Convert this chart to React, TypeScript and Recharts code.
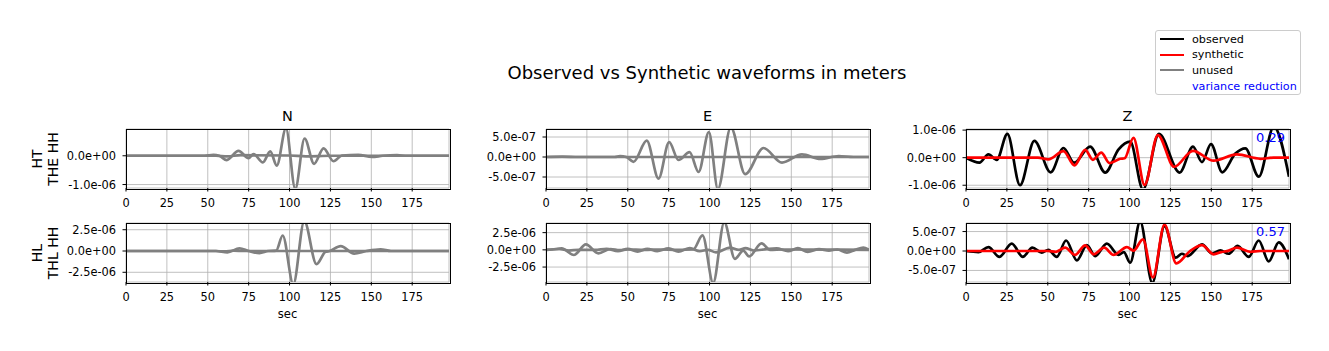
import { LineChart, Line, XAxis, YAxis, CartesianGrid } from "recharts";

type Pt = [number, number];

// time (s), amplitude (micrometres unless noted)
const nTopObs: Pt[] = [[0, 0], [48, 0], [53.5, 0.03], [57, 0], [61.6, -0.15], [68.8, 0.17], [74.9, -0.08], [78, 0.06], [83.7, -0.23], [88.2, 0.15], [92.2, -0.34], [97.8, 0.95], [103.5, -1.15], [109.2, 0.6], [115, -0.28], [120.8, 0.26], [126.9, -0.19], [132, 0.01], [142, 0.03], [150.4, -0.04], [157, 0], [165.7, 0.02], [172, 0], [197.5, 0]];
const nTopSyn: Pt[] = [[0, 0], [55, 0], [62, -0.02], [70, 0.02], [100, 0.01], [110, -0.02], [125, 0], [197.5, 0]];

const nBotObs: Pt[] = [[0, 0], [55, 0], [62, -0.15], [69.4, 0.3], [75, 0], [81.6, -0.25], [87, 0], [91.8, 0.05], [95.8, 1.82], [102.3, -3.9], [109, 3.5], [116.5, -1.55], [122, -0.1], [124.5, 0], [131.3, 0.58], [139.5, -0.31], [147, 0], [155.7, 0.2], [162, 0], [197.5, 0]];
const nBotSyn: Pt[] = [[0, 0], [55, 0], [60, -0.05], [66, 0.05], [72, 0], [197.5, 0]];

// E top in units of 1e-7
const eTopObs: Pt[] = [[0, 0], [42, 0], [45.3, 0.2], [49, 0], [53.5, -1.2], [61.6, 4.1], [68.8, -5.4], [75.3, 3.7], [81, -0.75], [87.8, 1.2], [93.3, -3.75], [99.6, 6.2], [105.1, -8.0], [113, 7.4], [121.8, -4.3], [133, 2.25], [144.3, -1.4], [156.5, 0.67], [167.8, -0.5], [179, 0.25], [188, 0], [197.5, 0]];
const eTopSyn: Pt[] = [[0, 0], [10, 0.1], [20, 0], [197.5, 0]];

const eBotObs: Pt[] = [[0, 0], [4, 0.05], [9.6, 0.2], [17.1, -0.75], [24.4, 0.8], [32, -0.5], [39.5, 0.12], [45, -0.05], [50, 0.05], [60, 0], [70, 0.05], [80, 0], [90, 0.05], [95.7, 2.1], [102.2, -4.8], [109, 4.0], [115.5, -1.3], [120.6, -0.1], [124.2, -0.95], [131.8, 0.95], [137, 0], [145, 0.05], [197.5, 0]];
const eBotSyn: Pt[] = [[0, 0], [8, 0.12], [14, -0.1], [20, 0], [30, 0], [37, 0.15], [44, -0.2], [50, 0.15], [56, -0.25], [62, 0.15], [68, -0.2], [75, 0.2], [81, -0.25], [88, 0.25], [94, -0.2], [99, 0], [104, -0.38], [112.4, 0.33], [118, 0], [122, 0.25], [127, -0.1], [135, 0.1], [141, 0.2], [148, -0.2], [154, 0.25], [160, -0.3], [167, 0.1], [173, -0.1], [178, 0.05], [184, -0.4], [189, 0], [194, 0.33], [197.5, 0]];

const zTopObs: Pt[] = [[0, 0], [8.2, -0.18], [13.7, 0.12], [18.8, -0.08], [25.3, 0.86], [33, -1.0], [41.8, 0.61], [51.8, -0.53], [59.6, 0.35], [66.1, -0.18], [75.9, 0.4], [85.1, -0.54], [93.3, 0.3], [100.4, 0.58], [108.2, -1.15], [118, 0.86], [130.6, -0.54], [138.8, 0.4], [144.3, -0.16], [149.8, 0.49], [156.7, -0.53], [164.7, 0.15], [170.8, 0.34], [179, -0.69], [188.2, 1.12], [197.5, -0.69]];
const zTopSyn: Pt[] = [[0, 0], [44, 0], [50.4, -0.06], [59.6, 0.24], [66.3, -0.28], [72.9, 0.28], [77.6, -0.08], [82.7, 0.18], [87.8, -0.2], [94.3, -0.04], [97, -0.02], [102.4, 0.72], [109.2, -0.99], [117.3, 0.82], [127.3, -0.33], [138.8, 0.25], [151.4, -0.11], [165.7, 0.12], [180, -0.04], [188, 0], [197.5, 0]];

// Z bottom in units of 1e-7
const zBotObs: Pt[] = [[0, 0], [7.6, -0.3], [13.7, 1.0], [20.4, -1.5], [28, 1.9], [34.7, -1.5], [40.6, 0.85], [46.3, -0.4], [50.4, 0.3], [55.5, -1.5], [61.2, 2.7], [67.8, -2.4], [73.9, 1.5], [79, -1.3], [86.1, 1.9], [93.3, -1.0], [96.5, -0.3], [100.4, -3.0], [106.5, 7.6], [113.9, -8.2], [121.4, 6.4], [128.2, -1.7], [132, -0.7], [135.5, -1.3], [144.3, 1.7], [150.4, -0.6], [155.5, 0.17], [160.6, -0.7], [166.1, 1.3], [172.9, -1.5], [179, 2.7], [185.1, -2.7], [191.2, 2.2], [197.5, -2.1]];
const zBotSyn: Pt[] = [[0, 0], [50, 0], [55, -0.2], [60.6, 0.85], [66.7, -1.0], [72.9, 1.45], [78, -0.85], [84.5, 0.85], [90.2, -1.0], [98.4, 1.0], [102.4, 0.1], [108.2, 3.0], [114.3, -6.8], [121.4, 6.8], [128.6, -3.2], [137, 0], [144.3, 1.5], [151.4, -0.85], [156, -0.3], [160.6, 0.1], [165.7, 0.85], [173.9, -0.2], [180, 0], [197.5, 0]];

const xTicks = [0, 25, 50, 75, 100, 125, 150, 175];
const varReduction = ["0.29", "0.57"];
const components = ["N", "E", "Z"];
const stations = [["HT", "THE HH"], ["HL", "THL HH"]];

const FONT = "'DejaVu Sans', sans-serif";
const PW = 323;
const PH = 59;
const YW = 80;
const MT = 10;
const colLeft = [126, 546, 966];
const rowTop = [129, 223];

const rows = (pts: Pt[], unit: number) => pts.map(([t, v]) => ({ t, v: v * unit }));

const sci = (v: number) => {
  if (v === 0) return "0.0e+00";
  const [m, e] = v.toExponential(1).split("e");
  const n = Number(e);
  return `${m}e${n < 0 ? "-" : "+"}${String(Math.abs(n)).padStart(2, "0")}`;
};

type PanelProps = {
  col: number;
  row: number;
  obs: { t: number; v: number }[];
  syn: { t: number; v: number }[];
  used: boolean;
  domain: [number, number];
  yTicks: number[];
};

function Panel({ col, row, obs, syn, used, domain, yTicks }: PanelProps) {
  const left = colLeft[col];
  const top = rowTop[row];
  const tickStyle = { fontSize: 11.4, fill: "#000", fontFamily: FONT };
  return (
    <>
      <div style={{ position: "absolute", left: left - YW, top: top - MT }}>
        <LineChart width={YW + PW + 2} height={PH + MT + 30} margin={{ top: MT, right: 2, bottom: 0, left: 0 }}>
          <CartesianGrid stroke="#b0b0b0" strokeWidth={0.8} />
          <XAxis
            dataKey="t"
            type="number"
            domain={[0, 197.5]}
            allowDataOverflow
            ticks={xTicks}
            interval={0}
            height={30}
            tick={tickStyle}
            tickSize={3.5}
            tickMargin={7}
            tickLine={{ stroke: "#000" }}
            axisLine={false}
          />
          <YAxis
            type="number"
            domain={domain}
            allowDataOverflow
            ticks={yTicks}
            interval={0}
            width={YW}
            tick={tickStyle}
            tickFormatter={sci}
            tickSize={3.5}
            tickMargin={6.5}
            tickLine={{ stroke: "#000" }}
            axisLine={false}
          />
          <Line
            data={obs}
            dataKey="v"
            type="monotone"
            stroke={used ? "#000000" : "#808080"}
            strokeWidth={2.7}
            dot={false}
            isAnimationActive={false}
          />
          <Line
            data={syn}
            dataKey="v"
            type="monotone"
            stroke={used ? "#ff0000" : "#808080"}
            strokeWidth={2.7}
            dot={false}
            isAnimationActive={false}
          />
        </LineChart>
      </div>
      <div
        style={{
          position: "absolute",
          left: left - 0.5,
          top: top - 0.5,
          width: PW,
          height: PH,
          border: "1px solid #000",
          pointerEvents: "none",
        }}
      />
      {used && (
        <div
          style={{
            position: "absolute",
            right: 1329 - 1285,
            top: top + 0.5,
            fontSize: 13,
            color: "#0000ff",
            fontFamily: FONT,
          }}
        >
          {varReduction[row]}
        </div>
      )}
      {row === 0 && (
        <div
          style={{
            position: "absolute",
            left: left + PW / 2,
            top: 116,
            transform: "translate(-50%, -50%)",
            fontSize: 14.5,
            fontFamily: FONT,
          }}
        >
          {components[col]}
        </div>
      )}
      {row === 1 && (
        <div
          style={{
            position: "absolute",
            left: left + PW / 2,
            top: 314,
            transform: "translate(-50%, -50%)",
            fontSize: 11.6,
            fontFamily: FONT,
          }}
        >
          sec
        </div>
      )}
    </>
  );
}

export default function App() {
  const legend = [
    { label: "observed", color: "#000000" },
    { label: "synthetic", color: "#ff0000" },
    { label: "unused", color: "#808080" },
  ];
  return (
    <div style={{ position: "absolute", left: 0, top: 0, width: 1329, height: 351, background: "#fff", fontFamily: FONT }}>
      <div
        style={{
          position: "absolute",
          left: 707,
          top: 72,
          transform: "translate(-50%, -50%)",
          fontSize: 18,
          whiteSpace: "nowrap",
        }}
      >
        Observed vs Synthetic waveforms in meters
      </div>

      {stations.map((s, i) => (
        <div
          key={s[1]}
          style={{
            position: "absolute",
            left: 45,
            top: rowTop[i] + PH / 2,
            transform: "translate(-50%, -50%) rotate(-90deg)",
            fontSize: 14,
            lineHeight: "16px",
            textAlign: "center",
            whiteSpace: "nowrap",
          }}
        >
          {s[0]}
          <br />
          {s[1]}
        </div>
      ))}

      <Panel col={0} row={0} obs={rows(nTopObs, 1e-6)} syn={rows(nTopSyn, 1e-6)} used={false} domain={[-1.12e-6, 0.93e-6]} yTicks={[-1e-6, 0]} />
      <Panel col={0} row={1} obs={rows(nBotObs, 1e-6)} syn={rows(nBotSyn, 1e-6)} used={false} domain={[-3.64e-6, 3.29e-6]} yTicks={[-2.5e-6, 0, 2.5e-6]} />
      <Panel col={1} row={0} obs={rows(eTopObs, 1e-7)} syn={rows(eTopSyn, 1e-7)} used={false} domain={[-7.75e-7, 7.0e-7]} yTicks={[-5e-7, 0, 5e-7]} />
      <Panel col={1} row={1} obs={rows(eBotObs, 1e-6)} syn={rows(eBotSyn, 1e-6)} used={false} domain={[-4.67e-6, 3.9e-6]} yTicks={[-2.5e-6, 0, 2.5e-6]} />
      <Panel col={2} row={0} obs={rows(zTopObs, 1e-6)} syn={rows(zTopSyn, 1e-6)} used={true} domain={[-1.1e-6, 1.04e-6]} yTicks={[-1e-6, 0, 1e-6]} />
      <Panel col={2} row={1} obs={rows(zBotObs, 1e-7)} syn={rows(zBotSyn, 1e-7)} used={true} domain={[-7.97e-7, 7.2e-7]} yTicks={[-5e-7, 0, 5e-7]} />

      <div
        style={{
          position: "absolute",
          left: 1155,
          top: 30,
          width: 146,
          height: 65,
          boxSizing: "border-box",
          border: "1px solid #cccccc",
          borderRadius: 3,
          background: "rgba(255,255,255,0.8)",
          fontSize: 11.2,
        }}
      >
        {legend.map((e, i) => (
          <div key={e.label} style={{ position: "absolute", left: 4, top: 8.3 + i * 15.5 - 7, height: 14, display: "flex", alignItems: "center" }}>
            <div style={{ width: 24, height: 2, background: e.color }} />
            <div style={{ marginLeft: 8, whiteSpace: "nowrap" }}>{e.label}</div>
          </div>
        ))}
        <div style={{ position: "absolute", left: 36, top: 48.5, height: 14, display: "flex", alignItems: "center", color: "#0000ff", whiteSpace: "nowrap" }}>
          variance reduction
        </div>
      </div>
    </div>
  );
}
